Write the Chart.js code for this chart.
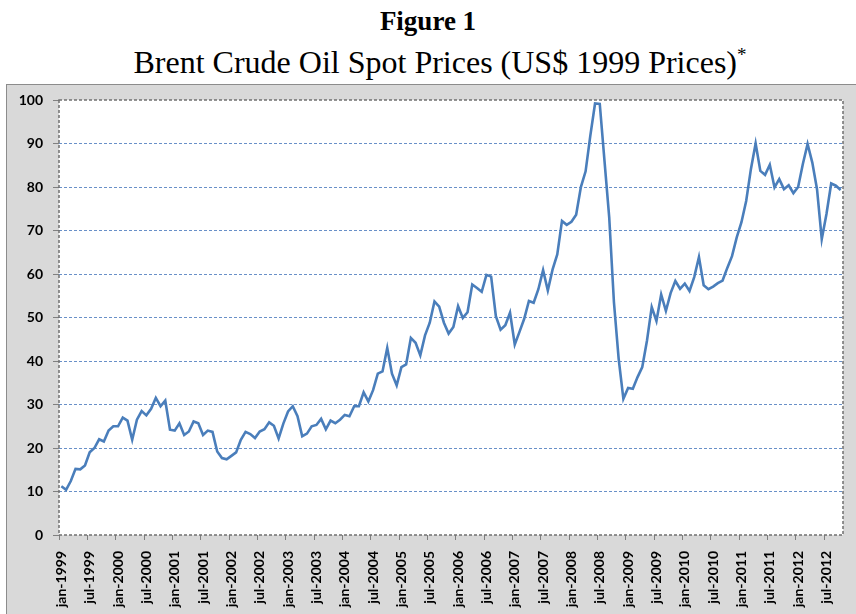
<!DOCTYPE html>
<html>
<head>
<meta charset="utf-8">
<script src="https://cdn.jsdelivr.net/npm/chart.js@4.4.0/dist/chart.umd.min.js"></script>
<style>
  body { margin: 0; background: #fff; width: 856px; height: 614px; overflow: hidden; position: relative; }
  .fig { position: absolute; left: 0; width: 856px; text-align: center; font-family: "Liberation Serif", "Times New Roman", serif; color: #000; white-space: nowrap; }
  #t1 { top: 5px; font-size: 27px; font-weight: bold; line-height: 32px; }
  #t2 { top: 44px; left: 12px; font-size: 32px; line-height: 36px; }
  #t2 sup { font-size: 19px; vertical-align: 12px; line-height: 0; }
  #frame { position: absolute; left: 6px; top: 84px; width: 900px; height: 600px; background: #d9d9d9; border: 1px solid #8c8c8c; }
  #chart { position: absolute; left: 0; top: 0; }
</style>
</head>
<body>
<div class="fig" id="t1">Figure 1</div>
<div class="fig" id="t2">Brent Crude Oil Spot Prices (US$ 1999 Prices)<sup>*</sup></div>
<div id="frame"></div>
<canvas id="chart" width="856" height="614"></canvas>
<script>
// monthly categories jan-1999 .. oct-2012
const monthNames = ['jan', 'feb', 'mar', 'apr', 'may', 'jun', 'jul', 'aug', 'sep', 'oct', 'nov', 'dec'];
const years = [1999, 2000, 2001, 2002, 2003, 2004, 2005, 2006, 2007, 2008, 2009, 2010, 2011, 2012];
const lastMonth = 9; // oct-2012
const labelEvery = 6;

const months = [];
years.forEach(y => {
    monthNames.forEach((m, i) => {
        if (y < 2012 || i <= lastMonth) months.push(m + '-' + y);
    });
});

// Brent spot price, US$ 1999 prices
const prices = [
    11.2, 10.4, 12.4, 15.2, 15.1, 16.0, 19.0, 20.0, 22.0, 21.5, 24.0, 25.0,
    25.0, 27.0, 26.3, 21.9, 26.5, 28.5, 27.5, 29.0, 31.5, 29.6, 30.9, 24.2,
    24.0, 25.7, 23.0, 23.8, 26.1, 25.7, 23.0, 24.0, 23.7, 19.2, 17.7, 17.4,
    18.2, 19.0, 21.9, 23.7, 23.2, 22.3, 23.8, 24.3, 25.9, 25.1, 22.2, 25.6,
    28.4, 29.6, 27.3, 22.7, 23.3, 25.0, 25.3, 26.7, 24.3, 26.3, 25.7, 26.5,
    27.6, 27.3, 29.6, 29.6, 32.8, 30.7, 33.3, 37.1, 37.6, 43.0, 37.1, 34.4,
    38.6, 39.2, 45.3, 44.2, 41.3, 45.9, 48.8, 53.7, 52.5, 48.8, 46.3, 47.8,
    52.6, 49.9, 51.2, 57.6, 56.8, 55.9, 59.8, 59.4, 50.3, 47.2, 48.2, 51.1,
    43.8, 46.7, 49.7, 53.8, 53.4, 56.5, 60.9, 56.2, 61.0, 64.5, 72.2, 71.3,
    72.0, 73.6, 80.0, 83.6, 91.8, 99.2, 99.1, 86.0, 73.0, 53.5, 40.5, 31.3,
    33.8, 33.6, 36.3, 38.6, 44.7, 52.4, 49.2, 55.3, 51.5, 55.6, 58.4, 56.6,
    57.8, 56.1, 59.3, 63.9, 57.4, 56.5, 57.1, 57.9, 58.5, 61.4, 64.1, 68.4,
    71.9, 76.8, 84.1, 90.0, 83.7, 82.8, 85.1, 79.9, 81.8, 79.5, 80.4, 78.6,
    80.0, 85.3, 89.9, 85.6, 79.5, 68.0, 73.8, 80.8, 80.3, 79.3
];

const yMin = 0;
const yMax = 100;
const yStep = 10;

const lineBlue = '#4a7ebb';
const gridBlue = '#6990c8';
const frameGrey = '#707070';

// white plot area + dashed frame like the Excel chart
const plotFrame = {
    id: 'plotFrame',
    beforeDraw(chart) {
        const a = chart.chartArea, c = chart.ctx;
        c.save();
        c.fillStyle = '#fff';
        c.fillRect(a.left, a.top, a.width, a.height);
        c.restore();
    },
    beforeDatasetsDraw(chart) {
        const a = chart.chartArea, c = chart.ctx;
        c.save();
        c.strokeStyle = frameGrey;
        c.lineWidth = 1.5;
        c.setLineDash([3, 2]);
        c.strokeRect(a.left, a.top, a.width, a.height);
        c.restore();
    }
};

const ctx = document.getElementById('chart').getContext('2d');

const oilChart = new Chart(ctx, {
    type: 'line',
    data: {
        labels: months,
        datasets: [{
            label: 'Brent',
            data: prices,
            borderColor: lineBlue,
            borderWidth: 2.6,
            pointRadius: 0,
            tension: 0,
            fill: false
        }]
    },
    options: {
        responsive: false,
        animation: false,
        devicePixelRatio: 1,
        layout: { padding: { top: 100, right: 13, left: 0, bottom: 0 } },
        plugins: {
            legend: { display: false },
            title: { display: false },
            tooltip: { enabled: false }
        },
        scales: {
            x: {
                type: 'category',
                offset: true,
                afterFit: s => { s.height = 79; s.paddingLeft = 0; s.paddingRight = 0; },
                grid: {
                    offset: true,
                    drawOnChartArea: false,
                    drawTicks: true,
                    tickLength: 5,
                    tickWidth: 1,
                    tickColor: c => (c.index % labelEvery === 0 ? '#808080' : 'rgba(0,0,0,0)')
                },
                border: { display: false },
                ticks: {
                    autoSkip: false,
                    maxRotation: 90,
                    minRotation: 90,
                    padding: 11,
                    color: '#000',
                    font: { family: 'Lato', size: 14, weight: 'bold' },
                    callback: (v, i) => (i % labelEvery === 0 ? months[i] : '')
                }
            },
            y: {
                min: yMin,
                max: yMax,
                afterFit: s => { s.width = 59; s.paddingTop = 0; s.paddingBottom = 0; },
                grid: {
                    color: c => (c.tick.value === yMin || c.tick.value === yMax ? 'rgba(0,0,0,0)' : gridBlue),
                    lineWidth: 1,
                    tickLength: 6,
                    tickColor: '#808080'
                },
                border: { display: false, dash: [3, 2] },
                ticks: {
                    stepSize: yStep,
                    padding: 10,
                    color: '#000',
                    font: { family: 'Lato', size: 14, weight: 'bold' }
                }
            }
        }
    },
    plugins: [plotFrame]
});
</script>
</body>
</html>
